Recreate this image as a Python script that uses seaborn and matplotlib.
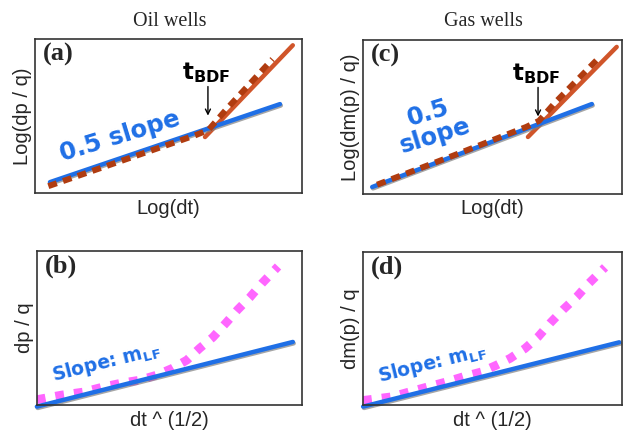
import numpy as np
import pandas as pd
import matplotlib
matplotlib.use("Agg")
import matplotlib.pyplot as plt
import matplotlib.patheffects as pe
import seaborn as sns

sns.set_style("white")
plt.rcParams['font.family'] = ['Liberation Sans', 'DejaVu Sans']
plt.rcParams['mathtext.fontset'] = 'dejavusans'

BLUE = "#1f6fe6"
BROWN_DASH = "#b03c10"
BROWN_LINE = "#d0552a"
PINK = "#ff66ff"

# ---- data (axes run 0..10 on both scales) ----
# (a) oil wells, log-log
a_blue_x = [0.56, 9.18]
a_blue_y = [0.71, 5.78]
a_dash_x = [0.5, 3.0, 6.0, 6.5, 7.2, 8.9]
a_dash_y = [0.45, 1.95, 3.75, 4.1, 5.5, 8.7]
a_bdf_x = [6.37, 9.66]
a_bdf_y = [3.64, 9.6]

# (c) gas wells, log-log
c_blue_x = [0.35, 8.84]
c_blue_y = [0.45, 5.84]
c_dash_x = [0.54, 3.5, 6.3, 6.8, 7.4, 9.03]
c_dash_y = [0.6, 2.5, 4.35, 4.75, 5.9, 8.7]
c_bdf_x = [6.37, 9.8]
c_bdf_y = [3.7, 9.55]

# (b) oil wells, square-root time
b_blue_x = [0.0, 9.66]
b_blue_y = [-0.1, 4.1]
b_pink_x = [0.0, 0.94, 1.74, 2.49, 3.2, 3.89, 4.53, 5.13, 5.66, 6.15, 6.64,
            7.17, 7.58, 8.04, 8.49, 9.1]
b_pink_y = [0.35, 0.65, 0.84, 1.17, 1.43, 1.62, 1.95, 2.4, 2.92, 3.7, 4.4,
            5.4, 6.2, 7.0, 7.9, 9.0]

# (d) gas wells, square-root time
d_blue_x = [0.0, 9.9]
d_blue_y = [-0.1, 4.1]
d_pink_x = [0.0, 1.11, 1.81, 2.52, 3.23, 3.87, 4.58, 5.16, 5.68, 6.26, 6.77,
            7.22, 7.74, 8.26, 8.7, 9.35]
d_pink_y = [0.3, 0.54, 0.87, 1.2, 1.52, 1.85, 2.17, 2.61, 3.05, 3.7, 4.47,
            5.34, 6.25, 7.08, 7.91, 9.0]

fig = plt.figure(figsize=(6.25, 4.3), dpi=100)
ax_a = fig.add_axes([0.056, 0.551, 0.427, 0.358])
ax_c = fig.add_axes([0.581, 0.549, 0.414, 0.358])
ax_b = fig.add_axes([0.059, 0.058, 0.424, 0.358])
ax_d = fig.add_axes([0.581, 0.058, 0.414, 0.356])

shadow = [pe.SimpleLineShadow(offset=(0.6, -1.0), shadow_color="gray", alpha=0.7),
          pe.Normal()]


def line(ax, x, y, color, lw, dashes=None, effects=None):
    df = pd.DataFrame({"x": x, "y": y})
    sns.lineplot(data=df, x="x", y="y", ax=ax, color=color, linewidth=lw,
                 sort=False, estimator=None)
    ln = ax.lines[-1]
    if dashes is not None:
        ln.set_dashes(dashes)
        ln.set_dash_capstyle("butt")
    if effects is not None:
        ln.set_path_effects(effects)


def frame(ax, letter, xlabel, ylabel):
    ax.set_xlim(0, 10)
    ax.set_ylim(0, 10)
    ax.set_xticks([])
    ax.set_yticks([])
    ax.set_xlabel(xlabel, fontsize=14.5, labelpad=4)
    ax.set_ylabel(ylabel, fontsize=14.5, labelpad=2)
    for s in ax.spines.values():
        s.set_color("#333333")
        s.set_linewidth(1.2)
    ax.text(0.03, 0.975, letter, transform=ax.transAxes, va="top", ha="left",
            fontsize=19, fontweight="bold", family="Liberation Serif")


# log-log panels
for ax, bx, by, dx, dy, sx, sy in [
        (ax_a, a_blue_x, a_blue_y, a_dash_x, a_dash_y, a_bdf_x, a_bdf_y),
        (ax_c, c_blue_x, c_blue_y, c_dash_x, c_dash_y, c_bdf_x, c_bdf_y)]:
    line(ax, sx, sy, BROWN_LINE, 3.2)
    line(ax, bx, by, BLUE, 3.2, effects=shadow)
    line(ax, dx, dy, BROWN_DASH, 4.3, dashes=(1.5, 1.1))

frame(ax_a, "(a)", "Log(dt)", "Log(dp / q)")
frame(ax_c, "(c)", "Log(dt)", "Log(dm(p) / q)")

ax_a.text(3.2, 3.7, "0.5 slope", color=BLUE, fontsize=17.5, fontweight="bold",
          family="DejaVu Sans", rotation=17, ha="center", va="center")
ax_c.text(2.66, 4.5, "0.5\nslope", color=BLUE, fontsize=17.5, fontweight="bold",
          family="DejaVu Sans", rotation=17, ha="center", va="center",
          multialignment="center", linespacing=1.0)

for ax, tx, ax_x in [(ax_a, 6.4, 6.48), (ax_c, 6.68, 6.76)]:
    ax.text(tx, 7.8, r"$\mathbf{t_{BDF}}$", fontsize=16.5, ha="center",
            va="center", color="black")
    ax.annotate("", xy=(ax_x, 4.85), xytext=(ax_x, 7.1),
                arrowprops=dict(arrowstyle="->", color="black", lw=1,
                                mutation_scale=9))

# square-root time panels
for ax, bx, by, px, py in [(ax_b, b_blue_x, b_blue_y, b_pink_x, b_pink_y),
                           (ax_d, d_blue_x, d_blue_y, d_pink_x, d_pink_y)]:
    line(ax, px, py, PINK, 6.3, dashes=(1.0, 1.15))
    line(ax, bx, by, BLUE, 3.2, effects=shadow)
    ax.lines[-1].set_clip_on(False)

frame(ax_b, "(b)", "dt ^ (1/2)", "dp / q")
frame(ax_d, "(d)", "dt ^ (1/2)", "dm(p) / q")

for ax, tx, ty in [(ax_b, 2.6, 2.8), (ax_d, 2.66, 2.75)]:
    ax.text(tx, ty, r"Slope: $\mathbf{m_{LF}}$", color=BLUE, fontsize=13.5,
            fontweight="bold", family="DejaVu Sans", rotation=14,
            ha="center", va="center")

fig.text(0.272, 0.949, "Oil wells", fontsize=14.5, family="Liberation Serif",
         ha="center", va="center")
fig.text(0.773, 0.949, "Gas wells", fontsize=14.5, family="Liberation Serif",
         ha="center", va="center")

fig.savefig("out.png", dpi=100)
